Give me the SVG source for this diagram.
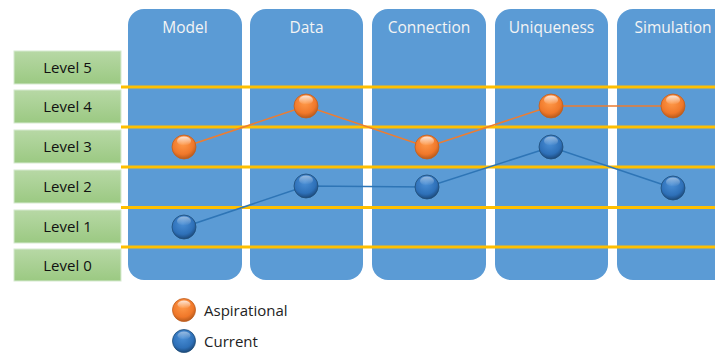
<svg xmlns="http://www.w3.org/2000/svg" width="715" height="353" viewBox="0 0 715 353">
<defs>
<linearGradient id="gGreen" x1="0" y1="0" x2="0" y2="1">
<stop offset="0" stop-color="#b7d8a5"/>
<stop offset="1" stop-color="#9bc982"/>
</linearGradient>
<radialGradient id="gOrange" cx="0.45" cy="0.35" r="0.65">
<stop offset="0" stop-color="#ff9a4a"/>
<stop offset="0.7" stop-color="#f0782a"/>
<stop offset="1" stop-color="#b85a1c"/>
</radialGradient>
<radialGradient id="gBlue" cx="0.45" cy="0.35" r="0.65">
<stop offset="0" stop-color="#4a8fd6"/>
<stop offset="0.7" stop-color="#2e70b8"/>
<stop offset="1" stop-color="#1c4a7c"/>
</radialGradient>
<linearGradient id="gHi" x1="0" y1="0" x2="0" y2="1">
<stop offset="0" stop-color="#fff" stop-opacity="0.8"/>
<stop offset="1" stop-color="#fff" stop-opacity="0"/>
</linearGradient>
</defs>
<style>
.col{fill:#5b9bd5}
.colt{font-family:"Open Sans","Liberation Sans",sans-serif;font-size:15.5px;fill:#f4f4f4;text-anchor:middle}
.lvl{fill:url(#gGreen);stroke:#d6ead0;stroke-width:1}
.lvlt{font-family:"Open Sans","Liberation Sans",Arial,sans-serif;font-size:15px;fill:#111;text-anchor:middle}
.grid{stroke:#ffc000;stroke-width:3}
.oline{stroke:#ed7d31;stroke-width:1.6;fill:none}
.bline{stroke:#2e75b6;stroke-width:1.6;fill:none}
.or{fill:url(#gOrange);stroke:#c0601f;stroke-width:0.8}
.bl{fill:url(#gBlue);stroke:#1f4e79;stroke-width:0.8}
.hi{fill:url(#gHi)}
.leg{font-family:"Open Sans","Liberation Sans",sans-serif;font-size:15px;fill:#222}
</style>
<g id="columns">
<g id="col-model"><rect class="col" x="128" y="9" width="114" height="271" rx="16"/><text class="colt" x="185" y="33">Model</text></g>
<g id="col-data"><rect class="col" x="250" y="9" width="113" height="271" rx="16"/><text class="colt" x="306.5" y="33">Data</text></g>
<g id="col-connection"><rect class="col" x="372" y="9" width="114" height="271" rx="16"/><text class="colt" x="429" y="33">Connection</text></g>
<g id="col-uniqueness"><rect class="col" x="495" y="9" width="113" height="271" rx="16"/><text class="colt" x="551.5" y="33">Uniqueness</text></g>
<g id="col-simulation"><rect class="col" x="617" y="9" width="130" height="271" rx="16"/><text class="colt" x="673" y="33">Simulation</text></g>
</g>
<g id="levels">
<g id="level5"><rect class="lvl" x="14" y="51" width="107" height="33"/><text class="lvlt" x="67.5" y="73">Level 5</text></g>
<g id="level4"><rect class="lvl" x="14" y="90" width="107" height="33"/><text class="lvlt" x="67.5" y="112">Level 4</text></g>
<g id="level3"><rect class="lvl" x="14" y="130" width="107" height="33"/><text class="lvlt" x="67.5" y="152">Level 3</text></g>
<g id="level2"><rect class="lvl" x="14" y="170" width="107" height="33"/><text class="lvlt" x="67.5" y="192">Level 2</text></g>
<g id="level1"><rect class="lvl" x="14" y="210" width="107" height="33"/><text class="lvlt" x="67.5" y="232">Level 1</text></g>
<g id="level0"><rect class="lvl" x="14" y="249" width="107" height="32"/><text class="lvlt" x="67.5" y="270.5">Level 0</text></g>
</g>
<g id="gridlines">
<line class="grid" x1="121" y1="87" x2="715" y2="87"/>
<line class="grid" x1="121" y1="127" x2="715" y2="127"/>
<line class="grid" x1="121" y1="167" x2="715" y2="167"/>
<line class="grid" x1="121" y1="207.5" x2="715" y2="207.5"/>
<line class="grid" x1="121" y1="247" x2="715" y2="247"/>
</g>
<g id="connectors">
<polyline class="oline" points="184,147 306,106 427,147 551,106 673,106"/>
<polyline class="bline" points="184,227 306,186 427,187 551,147 673,188"/>
</g>
<g id="aspirational-points">
<g id="a-model"><circle class="or" cx="184" cy="147" r="12"/><ellipse class="hi" cx="184" cy="141" rx="7" ry="4.5"/></g>
<g id="a-data"><circle class="or" cx="306" cy="106" r="12"/><ellipse class="hi" cx="306" cy="100" rx="7" ry="4.5"/></g>
<g id="a-connection"><circle class="or" cx="427" cy="147" r="12"/><ellipse class="hi" cx="427" cy="141" rx="7" ry="4.5"/></g>
<g id="a-uniqueness"><circle class="or" cx="551" cy="106" r="12"/><ellipse class="hi" cx="551" cy="100" rx="7" ry="4.5"/></g>
<g id="a-simulation"><circle class="or" cx="673" cy="106" r="12"/><ellipse class="hi" cx="673" cy="100" rx="7" ry="4.5"/></g>
</g>
<g id="current-points">
<g id="c-model"><circle class="bl" cx="184" cy="227" r="12"/><ellipse class="hi" cx="184" cy="221" rx="7" ry="4.5" opacity="0.6"/></g>
<g id="c-data"><circle class="bl" cx="306" cy="186" r="12"/><ellipse class="hi" cx="306" cy="180" rx="7" ry="4.5" opacity="0.6"/></g>
<g id="c-connection"><circle class="bl" cx="427" cy="187" r="12"/><ellipse class="hi" cx="427" cy="181" rx="7" ry="4.5" opacity="0.6"/></g>
<g id="c-uniqueness"><circle class="bl" cx="551" cy="147" r="12"/><ellipse class="hi" cx="551" cy="141" rx="7" ry="4.5" opacity="0.6"/></g>
<g id="c-simulation"><circle class="bl" cx="673" cy="188" r="12"/><ellipse class="hi" cx="673" cy="182" rx="7" ry="4.5" opacity="0.6"/></g>
</g>
<g id="legend">
<g id="leg-aspirational"><circle class="or" cx="184" cy="310" r="11.5"/><ellipse class="hi" cx="184" cy="304.5" rx="6.5" ry="4"/><text class="leg" x="204" y="315.5">Aspirational</text></g>
<g id="leg-current"><circle class="bl" cx="184" cy="341" r="11.5"/><ellipse class="hi" cx="184" cy="335.5" rx="6.5" ry="4" opacity="0.6"/><text class="leg" x="204" y="347">Current</text></g>
</g>
</svg>
